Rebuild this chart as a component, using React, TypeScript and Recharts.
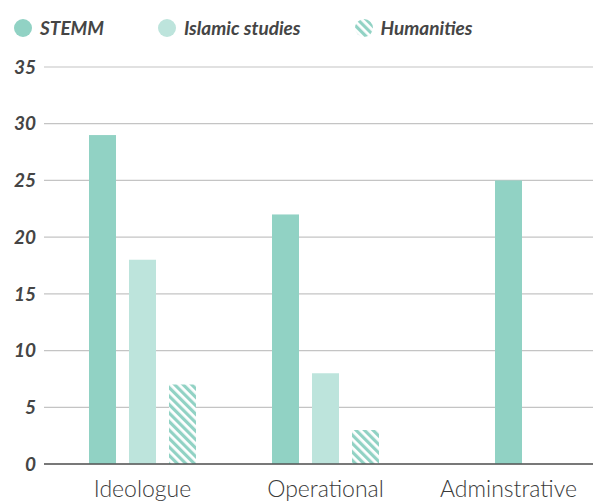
import React from 'react';
import { BarChart, Bar, XAxis, YAxis, CartesianGrid, Legend } from 'recharts';

const categories = ['Ideologue', 'Operational', 'Adminstrative'];
const stemm = [29, 22, 25];
const islamic = [18, 8, null];
const humanities = [7, 3, null];
const yTicks = [0, 5, 10, 15, 20, 25, 30, 35];

const data = categories.map((name, i) => ({
    name,
    stemm: stemm[i],
    islamic: islamic[i],
    humanities: humanities[i],
}));

const STEMM_COLOR = '#91d2c4';
const ISLAMIC_COLOR = '#bde4dc';
const TEXT = '#454545';
const BAR_SIZE = 27;
const BAR_GAP = 13;

const series = [
    { key: 'stemm', label: 'STEMM', fill: STEMM_COLOR },
    { key: 'islamic', label: 'Islamic studies', fill: ISLAMIC_COLOR },
    { key: 'humanities', label: 'Humanities', fill: 'url(#hatch)' },
];

// single-bar categories get their bar centred in the band
const StemmShape = (props: any) => {
    const { x, y, width, height, fill, payload } = props;
    const alone = payload.islamic == null && payload.humanities == null;
    const dx = alone ? BAR_SIZE + BAR_GAP : 0;
    return <rect x={x + dx} y={y} width={width} height={height} fill={fill} />;
};

const LegendContent = () => (
    <div style={{ display: 'flex', alignItems: 'center' }}>
        {series.map((s) => (
            <div key={s.key} style={{ display: 'flex', alignItems: 'center', marginRight: 54 }}>
                <svg width={18} height={18} style={{ marginRight: 8 }}>
                    <circle cx={9} cy={9} r={9} fill={s.fill} />
                </svg>
                <span
                    style={{
                        fontFamily: 'Lato, sans-serif',
                        fontStyle: 'italic',
                        fontWeight: 700,
                        fontSize: 19,
                        color: TEXT,
                    }}
                >
                    {s.label}
                </span>
            </div>
        ))}
    </div>
);

export default function App() {
    return (
        <div style={{ position: 'absolute', left: 0, top: 0, width: 593, height: 504, overflow: 'hidden', background: '#fff' }}>
            <BarChart
                width={600}
                height={504}
                data={data}
                margin={{ top: 44, right: 0, bottom: 0, left: 0 }}
                barSize={BAR_SIZE}
                barGap={BAR_GAP}
            >
                <defs>
                    <pattern id="hatch" width={6} height={6} patternUnits="userSpaceOnUse" patternTransform="rotate(-45)">
                        <rect x={0} y={0} width={6} height={6} fill="#fff" />
                        <rect x={0} y={0} width={3.2} height={6} fill={STEMM_COLOR} />
                    </pattern>
                </defs>
                <CartesianGrid vertical={false} stroke="#c4c4c4" strokeWidth={1.2} />
                <Legend
                    verticalAlign="top"
                    align="left"
                    content={<LegendContent />}
                    wrapperStyle={{ top: 16, left: 14, width: 'auto' }}
                />
                <XAxis
                    dataKey="name"
                    height={40}
                    padding={{ left: 7, right: 0 }}
                    tickLine={false}
                    tickSize={0}
                    tickMargin={17}
                    axisLine={{ stroke: '#555', strokeWidth: 1.5 }}
                    tick={{ fill: '#3a3a3a', fontSize: 23, fontFamily: 'Lato, sans-serif', fontWeight: 300 }}
                />
                <YAxis
                    width={44}
                    domain={[0, 35]}
                    ticks={yTicks}
                    axisLine={false}
                    tickLine={false}
                    tickSize={0}
                    tickMargin={8}
                    tick={{ fill: TEXT, fontSize: 19, fontFamily: 'Lato, sans-serif', fontStyle: 'italic', fontWeight: 700 }}
                />
                <Bar dataKey="stemm" fill={STEMM_COLOR} shape={<StemmShape />} isAnimationActive={false} />
                <Bar dataKey="islamic" fill={ISLAMIC_COLOR} isAnimationActive={false} />
                <Bar dataKey="humanities" fill="url(#hatch)" isAnimationActive={false} />
            </BarChart>
        </div>
    );
}
